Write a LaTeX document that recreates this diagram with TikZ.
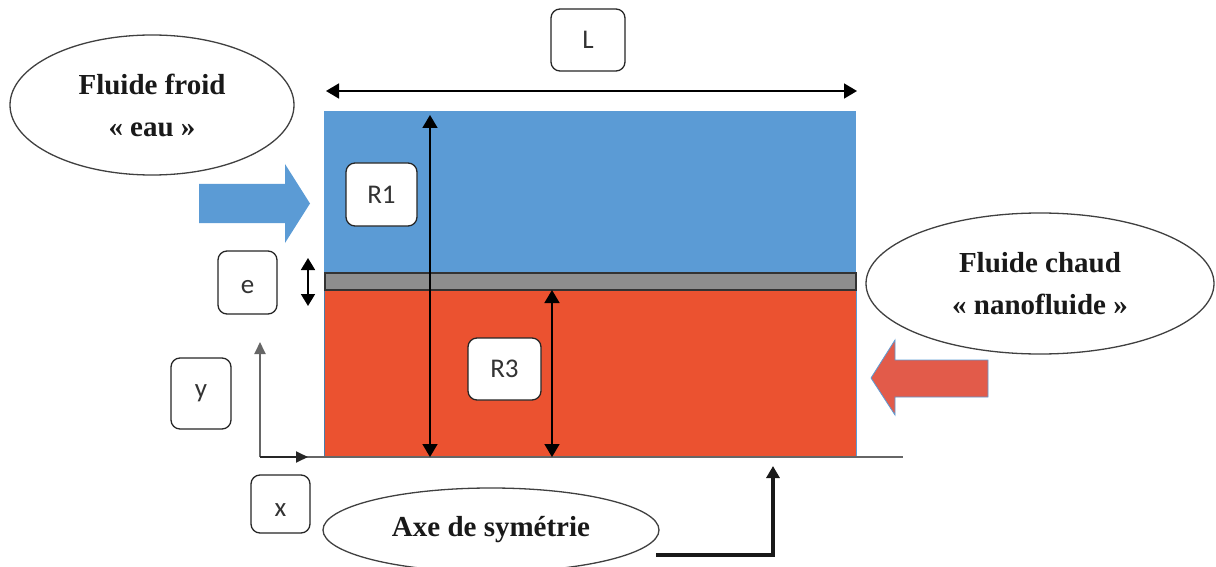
\documentclass[tikz,border=0pt]{standalone}
\usepackage{fontspec}
\setmainfont{Liberation Serif}
\newfontfamily\boxfont{Carlito}
\usepackage{tikz}
\usetikzlibrary{arrows.meta,shapes.geometric}

\definecolor{coldblue}{HTML}{5B9BD5}
\definecolor{hotred}{HTML}{EB5230}
\definecolor{arrowred}{HTML}{E25B4A}
\definecolor{wallgray}{HTML}{8E8E8E}

% baseline of a tag text, below the centre of its box
\newcommand{\tagtext}[2]{\raisebox{-#1}[0pt][0pt]{#2}}

\tikzset{
  bubble/.style={draw=black!75, line width=1.3pt, fill=white, ellipse, inner sep=0pt,
    align=center, font=\bfseries\fontsize{29}{42}\selectfont, text=black!90},
  tag/.style={draw=black!85, line width=1.3pt, fill=white, rounded corners=9pt, inner sep=0pt,
    font=\boxfont\fontsize{27}{30}\selectfont, text=black!80},
  dim/.style={line width=1.7pt, black, {Triangle[length=13pt,width=15pt]}-{Triangle[length=13pt,width=15pt]}},
  axis/.style={line width=1.8pt, black!60, -{Triangle[length=12pt,width=11pt]}}
}

\begin{document}
\begin{tikzpicture}[x=1pt, y=-1pt]
\useasboundingbox (0,0) rectangle (1216,567);

% the two streams and the wall
\fill[coldblue] (324,111) rectangle (856,273);
\fill[hotred] (324,290) rectangle (856,457);
\draw[coldblue!80!black, line width=1pt] (324,290) -- (324,457);
\draw[coldblue, line width=1pt] (856,290) -- (856,457);
\draw[black!80, line width=1.5pt, fill=wallgray] (325,273) rectangle (856,290);

% symmetry line and axes
\path (260,457) coordinate (origin);
\path (260,342) coordinate (ytip);
\path (308,457) coordinate (xtip);
\path (903,457) coordinate (lineend);
\draw[black!60, line width=1.8pt] (origin) -- (lineend);
\draw[axis] (origin) -- (ytip);
\draw[axis, black!85] (origin) -- (xtip);

% dimensions
\path (326,91) coordinate (la);
\path (857,91) coordinate (lb);
\path (430,115) coordinate (ra);
\path (430,457) coordinate (rb);
\path (552,290) coordinate (rc);
\path (552,457) coordinate (rd);
\path (308,258) coordinate (ea);
\path (308,306) coordinate (eb);
\draw[dim] (la) -- (lb);
\draw[dim] (ra) -- (rb);
\draw[dim] (rc) -- (rd);
\draw[dim, {Triangle[length=12pt,width=14pt]}-{Triangle[length=12pt,width=14pt]}] (ea) -- (eb);

% inlet arrows
\fill[coldblue] (199,184) -- (285,184) -- (285,164) -- (310,203.5) -- (285,243) -- (285,223) -- (199,223) -- cycle;
\draw[coldblue, line width=0.8pt, fill=arrowred] (988,360) -- (895,360) -- (895,340) -- (871,378) -- (895,415) -- (895,397) -- (988,397) -- cycle;

% labels
\node[tag, minimum width=74pt, minimum height=62pt] (L) at (588,40) {\tagtext{9pt}{L}};
\node[tag, minimum width=71pt, minimum height=63pt] (R1) at (381.5,194.5) {R1};
\node[tag, minimum width=73pt, minimum height=62pt] (R3) at (504.5,369) {R3};
\node[tag, minimum width=59pt, minimum height=63pt] (e) at (247.5,282.5) {\tagtext{10.5pt}{e}};
\node[tag, minimum width=60pt, minimum height=71pt] (y) at (201,393.5) {\tagtext{4pt}{y}};
\node[tag, minimum width=59pt, minimum height=58pt] (x) at (280.5,504) {\tagtext{12pt}{x}};

\node[bubble, minimum width=284pt, minimum height=140pt] (froid) at (152,105) {Fluide froid\\« eau »};
\node[bubble, minimum width=348pt, minimum height=141pt] (chaud) at (1040,283.5) {Fluide chaud\\« nanofluide »};
\node[bubble, minimum width=336pt, minimum height=84pt] (axe) at (491,530) {Axe de symétrie};

% pointer to the symmetry line
\path (656,555) coordinate (pa);
\path (773,555) coordinate (pb);
\path (773,466) coordinate (pc);
\draw[line width=3.5pt, black!90, -{Triangle[length=12pt,width=13pt]}] (pa) -- (pb) -- (pc);
\end{tikzpicture}
\end{document}
